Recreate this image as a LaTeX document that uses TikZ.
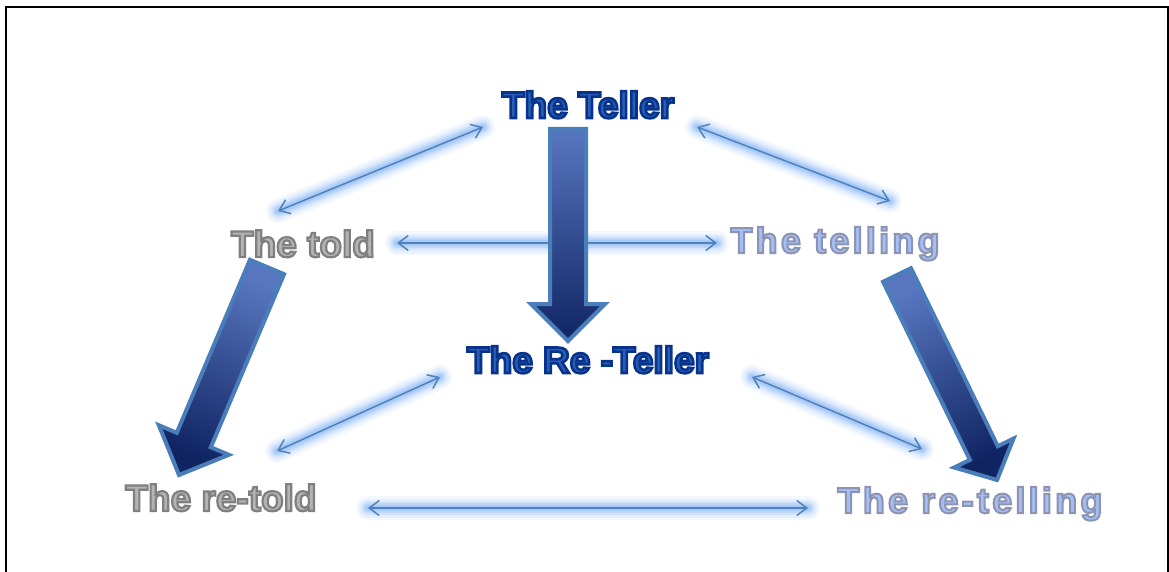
\documentclass[tikz,border=0pt]{standalone}
\usepackage{fontspec}
\setmainfont{Liberation Sans}
\usetikzlibrary{arrows.meta,calc}
\definecolor{tellerfill}{RGB}{40,95,180}
\definecolor{toldfill}{RGB}{180,180,180}
\definecolor{tellingfill}{RGB}{165,190,245}
\definecolor{linkblue}{RGB}{79,129,189}
\definecolor{glowblue}{RGB}{140,185,245}
\definecolor{arrowtop}{RGB}{88,118,192}
\definecolor{arrowbot}{RGB}{16,36,98}
\definecolor{arrowedge}{RGB}{74,126,187}
% outlined text: fill in current colour, stroke in given rgb with given width
\newcommand\outl[3]{\special{pdf:literal direct #1 RG 2 Tr #2 w}#3\special{pdf:literal direct 0 Tr 1 w}}
\tikzset{
 lbl/.style={font=\bfseries\fontsize{37}{40}\selectfont, inner sep=0pt, anchor=base},
 wide/.style={font=\bfseries\fontsize{36}{40}\selectfont\addfontfeature{LetterSpace=9}, inner sep=0pt, anchor=base},
 link/.style={draw=linkblue, line width=1.5pt, {Straight Barb[length=10pt,width=15pt]}-{Straight Barb[length=10pt,width=15pt]}},
 glow/.style={draw=glowblue, line cap=round},
 bigarrow/.style={draw=arrowedge, line width=4pt, line join=miter, top color=arrowtop, bottom color=arrowbot},
 frame/.style={draw=black, line width=2pt},
}
\newcommand\glowlink[2]{%
 \foreach \w/\o in {24/0.1,19/0.14,14/0.2,10/0.3,6/0.4}{\path[glow, line width=\w pt, opacity=\o] (#1) -- (#2);}
 \draw[link] (#1) -- (#2);}
\newcommand\blockarrow[6]{%
 \coordinate (bah) at ($(#2)!#5!(#1)$);
 \draw[bigarrow, shading angle=#6]
   ($(#1)!#3!90:(#2)$) -- ($(bah)!#3!90:(#2)$) -- ($(bah)!#4!90:(#2)$) -- (#2)
   -- ($(bah)!#4!-90:(#2)$) -- ($(bah)!#3!-90:(#2)$) -- ($(#1)!#3!-90:(#2)$) -- cycle;}
\begin{document}
\begin{tikzpicture}[x=1pt,y=-1pt]
\useasboundingbox (0,0) rectangle (1169,572);
\draw[frame] (6,620) -- (6,7) -- (1168,7) -- (1168,620);
% link end points
\coordinate (l1a) at (278,211); \coordinate (l1b) at (483,127);
\coordinate (l2a) at (697,127); \coordinate (l2b) at (890,201);
\coordinate (l3a) at (397,243); \coordinate (l3b) at (717,243);
\coordinate (l4a) at (277,451); \coordinate (l4b) at (440,377);
\coordinate (l5a) at (752,377); \coordinate (l5b) at (922,449);
\coordinate (l6a) at (368,508); \coordinate (l6b) at (808,508);
\glowlink{l1a}{l1b}
\glowlink{l2a}{l2b}
\glowlink{l3a}{l3b}
\glowlink{l4a}{l4b}
\glowlink{l5a}{l5b}
\glowlink{l6a}{l6b}
% big arrows
\coordinate (v1) at (568,129); \coordinate (v2) at (568,341);
\coordinate (d1) at (267,267); \coordinate (d2) at (179,475);
\coordinate (r1) at (897,275); \coordinate (r2) at (997,480);
\blockarrow{v1}{v2}{18pt}{37pt}{37pt}{0}
\blockarrow{d1}{d2}{18.5pt}{38pt}{38pt}{-23}
\blockarrow{r1}{r2}{15.5pt}{33pt}{30pt}{26}
% labels
\node[lbl, text=tellerfill] (teller) at (588,118) {\outl{0.03 0.2 0.55}{2.6}{The Teller}};
\node[lbl, text=toldfill] (told) at (303,257) {\outl{0.5 0.5 0.5}{2.2}{The told}};
\node[wide, text=tellingfill] (telling) at (835,253) {\outl{0.55 0.58 0.7}{2}{The telling}};
\node[lbl, text=tellerfill] (reteller) at (588,373) {\outl{0.03 0.2 0.55}{2.6}{The Re -Teller}};
\node[lbl, text=toldfill] (retold) at (221,511) {\outl{0.5 0.5 0.5}{2.2}{The re-told}};
\node[wide, text=tellingfill] (retelling) at (970,513) {\outl{0.55 0.58 0.7}{2}{The re-telling}};
\end{tikzpicture}
\end{document}
